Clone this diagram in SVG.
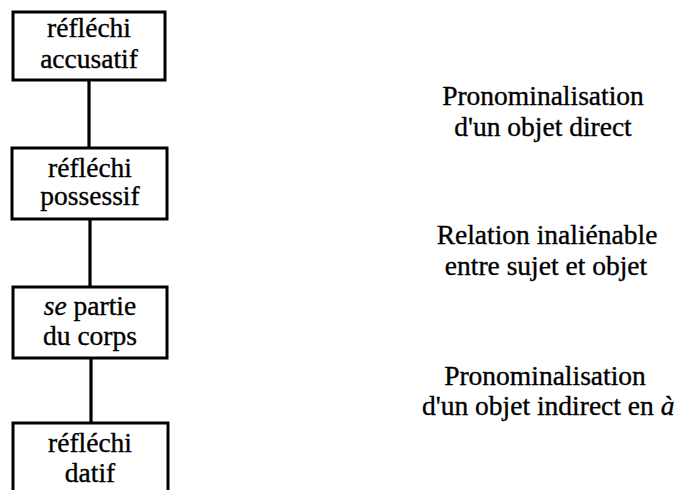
<svg xmlns="http://www.w3.org/2000/svg" width="675" height="490" viewBox="0 0 675 490">
<style>
.box{fill:#fff;stroke:#000;stroke-width:3}
.t{font-family:"Liberation Serif","Times New Roman",serif;font-size:27.5px;fill:#000;stroke:#000;stroke-width:0.35;text-anchor:middle}
.c{stroke:#000;stroke-width:3.2;fill:none}
</style>
<rect width="675" height="490" fill="#fff"/>
<g id="connectors">
<line class="c" x1="89" y1="80" x2="89" y2="148"/>
<line class="c" x1="90" y1="219" x2="90" y2="287"/>
<line class="c" x1="91" y1="358" x2="91" y2="423"/>
</g>
<g id="n1">
<rect class="box" x="13" y="12" width="152" height="68"/>
<text class="t" x="89" y="37">réfléchi</text>
<text class="t" x="89" y="68">accusatif</text>
</g>
<g id="n2">
<rect class="box" x="12" y="148" width="155" height="71"/>
<text class="t" x="90" y="177">réfléchi</text>
<text class="t" x="90" y="205">possessif</text>
</g>
<g id="n3">
<rect class="box" x="13" y="287" width="154" height="71"/>
<text class="t" x="90" y="315"><tspan font-style="italic">se</tspan> partie</text>
<text class="t" x="90" y="345">du corps</text>
</g>
<g id="n4">
<rect class="box" x="13" y="423" width="155" height="80"/>
<text class="t" x="90" y="452">réfléchi</text>
<text class="t" x="90" y="482">datif</text>
</g>
<g id="l1">
<text class="t" x="543" y="105">Pronominalisation</text>
<text class="t" x="543" y="136">d'un objet direct</text>
</g>
<g id="l2">
<text class="t" x="547" y="244">Relation inaliénable</text>
<text class="t" x="546" y="275">entre sujet et objet</text>
</g>
<g id="l3">
<text class="t" x="545" y="385">Pronominalisation</text>
<text class="t" x="422" y="415" style="text-anchor:start">d'un objet indirect en <tspan font-style="italic">à</tspan></text>
</g>
</svg>
